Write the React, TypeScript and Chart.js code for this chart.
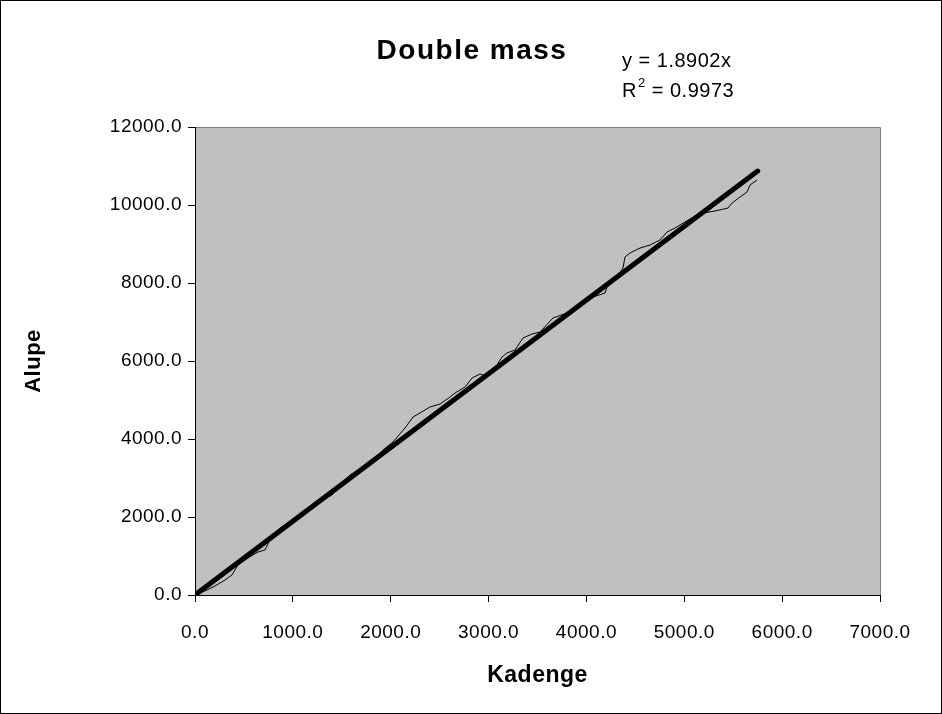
import React, { useEffect, useRef } from "react";
import { Chart, registerables } from "chart.js";

Chart.register(...registerables);

const chartTitle = "Double mass";
const xAxisTitle = "Kadenge";
const yAxisTitle = "Alupe";
const equationLine = "y = 1.8902x";
const r2Value = "0.9973";

// cumulative Kadenge (x) vs cumulative Alupe (y)
const kadenge = [
  0, 51, 123, 204, 307, 378, 439, 542, 644, 715, 766, 869, 1022, 1175, 1277,
  1400, 1482, 1584, 1686, 1788, 1921, 2023, 2146, 2228, 2299, 2401, 2504,
  2606, 2657, 2759, 2831, 2913, 2974, 3066, 3137, 3188, 3270, 3352, 3444,
  3526, 3658, 3801, 3883, 3985, 4067, 4190, 4210, 4292, 4374, 4394, 4445,
  4548, 4650, 4752, 4823, 4905, 5007, 5110, 5191, 5314, 5447, 5488, 5570,
  5641, 5672, 5743,
];
const alupe = [
  0, 51, 128, 231, 385, 513, 769, 949, 1103, 1154, 1410, 1718, 1923, 2205,
  2385, 2564, 2769, 3077, 3231, 3333, 3718, 3923, 4282, 4564, 4667, 4821,
  4897, 5077, 5179, 5333, 5564, 5667, 5615, 5820, 6102, 6205, 6282, 6590,
  6692, 6743, 7102, 7231, 7282, 7513, 7641, 7743, 7897, 8077, 8384, 8667,
  8769, 8897, 8974, 9103, 9308, 9410, 9564, 9718, 9795, 9846, 9923, 10051,
  10205, 10333, 10513, 10641,
];

// linear trendline through origin (y = 1.8902x) endpoints
const trendX = [0, 5750];
const trendY = [0, 10868.7];

const xTicks = [0, 1000, 2000, 3000, 4000, 5000, 6000, 7000];
const yTicks = [0, 2000, 4000, 6000, 8000, 10000, 12000];

const FONT = "'Liberation Sans', Arial, sans-serif";

const decorPlugin = {
  id: "decor",
  beforeUpdate(chart: any) {
    chart.ctx.letterSpacing = "0.5px";
  },
  beforeDraw(chart: any) {
    const { ctx, chartArea } = chart;
    const { left, top, right, bottom } = chartArea;
    ctx.letterSpacing = "0.5px";
    ctx.save();
    ctx.fillStyle = "#ffffff";
    ctx.fillRect(0, 0, chart.width, chart.height);
    ctx.fillStyle = "#c0c0c0";
    ctx.fillRect(left, top, right - left, bottom - top);
    ctx.strokeStyle = "#808080";
    ctx.lineWidth = 1;
    ctx.beginPath();
    ctx.moveTo(left, top + 0.5);
    ctx.lineTo(right + 0.5, top + 0.5);
    ctx.lineTo(right + 0.5, bottom);
    ctx.stroke();
    ctx.restore();
  },
  afterDraw(chart: any) {
    const { ctx } = chart;
    ctx.save();
    ctx.fillStyle = "#000000";
    ctx.textBaseline = "middle";
    ctx.textAlign = "center";
    ctx.letterSpacing = "1.5px";
    ctx.font = `bold 28px ${FONT}`;
    ctx.fillText(chartTitle, 472, 51);
    ctx.letterSpacing = "0.5px";
    ctx.textAlign = "left";
    ctx.font = `20px ${FONT}`;
    ctx.fillText(equationLine, 622, 61);
    ctx.fillText("R", 622, 91);
    const rw = ctx.measureText("R").width;
    ctx.font = `13px ${FONT}`;
    ctx.fillText("2", 622 + rw + 1, 83);
    const sw = ctx.measureText("2").width;
    ctx.font = `20px ${FONT}`;
    ctx.fillText(" = " + r2Value, 622 + rw + 1 + sw, 91);
    ctx.restore();
  },
};

export default function App() {
  const ref = useRef<HTMLCanvasElement | null>(null);
  useEffect(() => {
    if (!ref.current) return;
    const dataPoints = kadenge.map((x, i) => ({ x, y: alupe[i] }));
    const trendPoints = trendX.map((x, i) => ({ x, y: trendY[i] }));
    const tickFont = { family: FONT, size: 19 };
    const axisTitleFont = { family: FONT, size: 22, weight: "bold" };
    const chart = new Chart(ref.current, {
      type: "scatter",
      data: {
        datasets: [
          {
            label: "Double mass",
            data: dataPoints,
            showLine: true,
            borderColor: "#000000",
            borderWidth: 1,
            pointRadius: 0,
            tension: 0,
          },
          {
            label: "Trend",
            data: trendPoints,
            showLine: true,
            borderColor: "#000000",
            borderWidth: 5,
            borderCapStyle: "round",
            pointRadius: 0,
          },
        ],
      },
      options: {
        responsive: false,
        animation: false,
        devicePixelRatio: 1,
        layout: { padding: { left: 0, top: 127, right: 62, bottom: 0 } },
        plugins: {
          legend: { display: false },
          tooltip: { enabled: false },
          title: { display: false },
        },
        scales: {
          x: {
            type: "linear",
            min: 0,
            max: 7000,
            afterBuildTicks: (scale: any) => {
              scale.ticks = xTicks.map((v) => ({ value: v }));
            },
            afterFit: (scale: any) => {
              scale.height = 119;
            },
            ticks: {
              color: "#000000",
              font: tickFont,
              padding: 19,
              maxRotation: 0,
              autoSkip: false,
              callback: (v: any) => Number(v).toFixed(1),
            },
            grid: {
              drawOnChartArea: false,
              drawTicks: true,
              tickLength: 7,
              color: "#000000",
            },
            border: { color: "#000000", width: 1 },
            title: {
              display: true,
              text: xAxisTitle,
              color: "#000000",
              font: { family: FONT, size: 23, weight: "bold" },
              padding: { top: 0, bottom: 25 },
            },
          },
          y: {
            type: "linear",
            min: 0,
            max: 12000,
            afterBuildTicks: (scale: any) => {
              scale.ticks = yTicks.map((v) => ({ value: v }));
            },
            afterFit: (scale: any) => {
              scale.width = 195;
            },
            ticks: {
              color: "#000000",
              font: tickFont,
              padding: 6,
              autoSkip: false,
              callback: (v: any) => Number(v).toFixed(1),
            },
            grid: {
              drawOnChartArea: false,
              drawTicks: true,
              tickLength: 7,
              color: "#000000",
            },
            border: { color: "#000000", width: 1 },
            title: {
              display: true,
              text: yAxisTitle,
              color: "#000000",
              font: axisTitleFont,
              padding: { top: 21, bottom: 0 },
            },
          },
        },
      },
      plugins: [decorPlugin],
    } as any);
    return () => chart.destroy();
  }, []);

  return (
    <div
      style={{
        position: "absolute",
        left: 0,
        top: 0,
        width: 942,
        height: 714,
        background: "#ffffff",
      }}
    >
      <canvas
        ref={ref}
        width={942}
        height={714}
        style={{ position: "absolute", left: 0, top: 0, width: 942, height: 714 }}
      />
      <div
        style={{
          position: "absolute",
          left: 0,
          top: 0,
          width: 942,
          height: 714,
          boxSizing: "border-box",
          border: "1px solid #000000",
          pointerEvents: "none",
        }}
      />
    </div>
  );
}
